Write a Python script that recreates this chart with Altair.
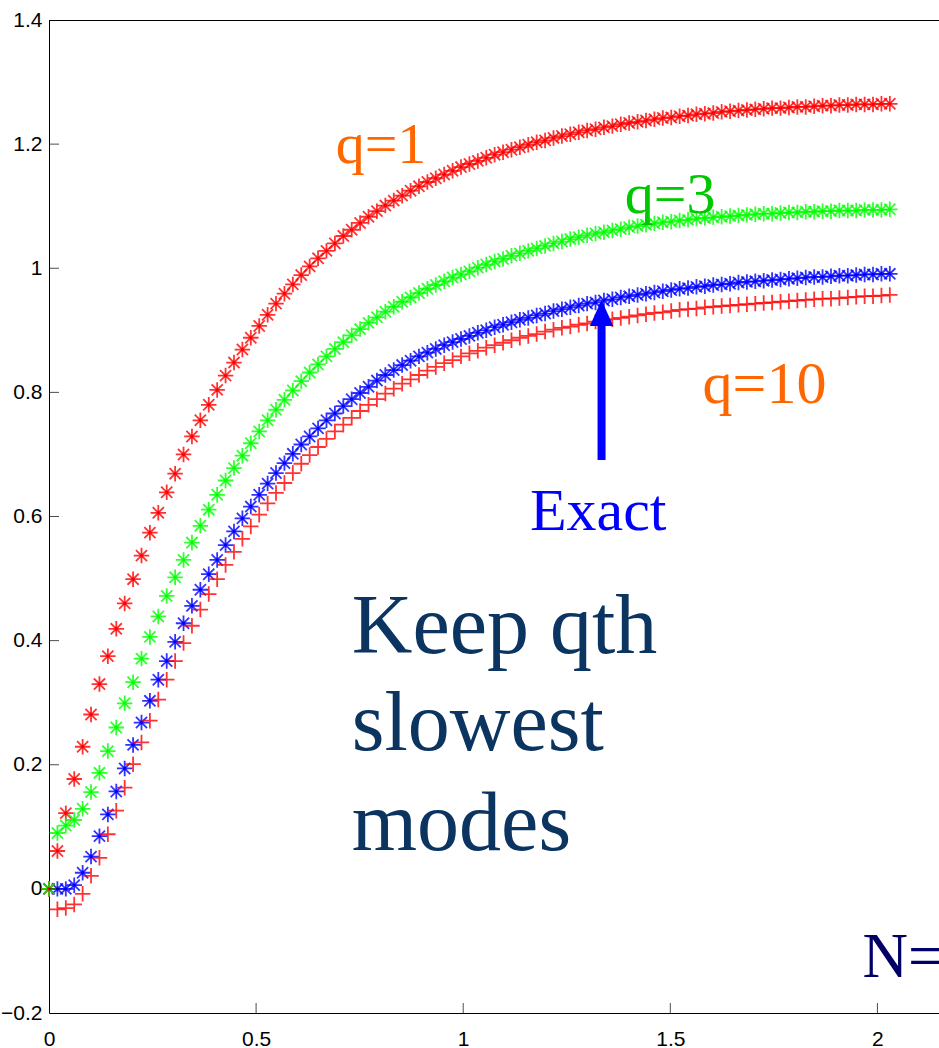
import altair as alt
import pandas as pd

# ---- data ----
DT = 0.0203          # spacing of the time samples
N_PTS = 101
T = [round(DT * k, 4) for k in range(N_PTS)]

Q1 = [0.000, 0.061, 0.122, 0.177, 0.229, 0.281, 0.330, 0.375, 0.419, 0.460,
      0.499, 0.537, 0.574, 0.606, 0.639, 0.669, 0.700, 0.729, 0.755, 0.780,
      0.804, 0.827, 0.848, 0.869, 0.888, 0.907, 0.925, 0.943, 0.959, 0.974,
      0.989, 1.003, 1.016, 1.028, 1.040, 1.052, 1.062, 1.073, 1.083, 1.092,
      1.101, 1.109, 1.117, 1.125, 1.132, 1.139, 1.145, 1.151, 1.157, 1.163,
      1.168, 1.173, 1.178, 1.183, 1.187, 1.191, 1.195, 1.199, 1.203, 1.206,
      1.210, 1.213, 1.216, 1.219, 1.222, 1.224, 1.227, 1.229, 1.232, 1.234,
      1.236, 1.238, 1.240, 1.242, 1.243, 1.245, 1.246, 1.248, 1.249, 1.250,
      1.252, 1.253, 1.254, 1.255, 1.256, 1.257, 1.258, 1.258, 1.259, 1.260,
      1.260, 1.261, 1.262, 1.262, 1.263, 1.263, 1.264, 1.264, 1.264, 1.265,
      1.265]

Q3 = [0.000, 0.090, 0.102, 0.111, 0.129, 0.156, 0.187, 0.222, 0.260, 0.299,
      0.333, 0.371, 0.406, 0.439, 0.472, 0.502, 0.530, 0.558, 0.585, 0.611,
      0.635, 0.658, 0.678, 0.698, 0.718, 0.737, 0.755, 0.772, 0.788, 0.803,
      0.818, 0.832, 0.845, 0.858, 0.870, 0.881, 0.892, 0.902, 0.912, 0.921,
      0.930, 0.938, 0.946, 0.953, 0.960, 0.967, 0.973, 0.979, 0.985, 0.990,
      0.995, 1.001, 1.006, 1.011, 1.015, 1.020, 1.024, 1.028, 1.032, 1.036,
      1.040, 1.043, 1.047, 1.050, 1.053, 1.056, 1.058, 1.061, 1.063, 1.066,
      1.068, 1.070, 1.072, 1.074, 1.075, 1.077, 1.078, 1.080, 1.081, 1.082,
      1.083, 1.084, 1.085, 1.086, 1.087, 1.088, 1.088, 1.089, 1.090, 1.090,
      1.091, 1.091, 1.092, 1.092, 1.093, 1.093, 1.093, 1.094, 1.094, 1.094,
      1.095]

EXACT = [0.000, 0.000, 0.000, 0.006, 0.026, 0.052, 0.085, 0.120, 0.157, 0.194,
         0.232, 0.268, 0.303, 0.337, 0.367, 0.398, 0.428, 0.456, 0.482, 0.507,
         0.530, 0.554, 0.576, 0.597, 0.616, 0.635, 0.653, 0.670, 0.686, 0.701,
         0.716, 0.729, 0.742, 0.755, 0.766, 0.778, 0.789, 0.799, 0.809, 0.819,
         0.828, 0.836, 0.844, 0.851, 0.858, 0.864, 0.870, 0.876, 0.881, 0.886,
         0.891, 0.896, 0.900, 0.905, 0.909, 0.913, 0.917, 0.920, 0.924, 0.927,
         0.931, 0.934, 0.937, 0.940, 0.943, 0.945, 0.948, 0.950, 0.953, 0.955,
         0.957, 0.959, 0.961, 0.963, 0.965, 0.967, 0.968, 0.970, 0.971, 0.973,
         0.974, 0.975, 0.977, 0.978, 0.979, 0.980, 0.981, 0.982, 0.983, 0.984,
         0.985, 0.986, 0.986, 0.987, 0.988, 0.988, 0.989, 0.990, 0.990, 0.991,
         0.991]

Q10 = [0.000, -0.033, -0.031, -0.025, -0.008, 0.021, 0.050, 0.088, 0.126, 0.163,
       0.201, 0.236, 0.271, 0.305, 0.337, 0.367, 0.396, 0.424, 0.450, 0.475,
       0.499, 0.522, 0.543, 0.564, 0.584, 0.603, 0.621, 0.638, 0.654, 0.670,
       0.685, 0.699, 0.712, 0.725, 0.737, 0.748, 0.759, 0.770, 0.780, 0.789,
       0.798, 0.806, 0.814, 0.821, 0.828, 0.835, 0.841, 0.847, 0.852, 0.858,
       0.863, 0.867, 0.872, 0.876, 0.880, 0.884, 0.888, 0.891, 0.894, 0.898,
       0.901, 0.904, 0.906, 0.909, 0.911, 0.914, 0.916, 0.918, 0.920, 0.922,
       0.924, 0.926, 0.928, 0.929, 0.931, 0.933, 0.934, 0.935, 0.937, 0.938,
       0.939, 0.940, 0.941, 0.942, 0.943, 0.944, 0.945, 0.946, 0.947, 0.948,
       0.949, 0.950, 0.951, 0.951, 0.952, 0.953, 0.954, 0.955, 0.955, 0.956,
       0.957]

SERIES = ["q10", "exact", "q3", "q1"]
SERIES_COLORS = ["#ff0000", "#0000ff", "#00ff00", "#ff0000"]

X_TICKS = [0, 0.5, 1, 1.5, 2]
Y_TICKS = [-0.2, 0, 0.2, 0.4, 0.6, 0.8, 1, 1.2, 1.4]
X_DOMAIN = [0, 2.1487]
Y_DOMAIN = [-0.2, 1.4]

# annotation texts (data coordinates)
LABEL_TEXT = ["q=1", "q=3", "q=10", "Exact", "Keep qth", "slowest", "modes", "N="]
LABEL_X = [0.692, 1.390, 1.578, 1.161, 0.731, 0.731, 0.731, 1.964]
LABEL_Y = [1.170, 1.089, 0.783, 0.578, 0.380, 0.224, 0.063, -0.142]
LABEL_COLOR = ["#ff6600", "#00c800", "#ff6600", "#0000ff",
               "#0b3560", "#0b3560", "#0b3560", "#000066"]
LABEL_SIZE = [58, 58, 60, 60, 84, 84, 84, 63]

ARROW_X = 1.334
ARROW_BASE = 0.691
ARROW_NECK = 0.920
ARROW_HEAD = 0.928

W, H = 890, 993

# ---- tables ----
rows = []
for name, vals in zip(SERIES, [Q10, EXACT, Q3, Q1]):
    for t, v in zip(T, vals):
        rows.append({"t": t, "y": v, "series": name})
df = pd.DataFrame(rows)
stars = df[df.series != "q10"]

STAR = "M-1,0L1,0M0,-1L0,1M-0.72,-0.72L0.72,0.72M-0.72,0.72L0.72,-0.72"
PLUS = "M-1,0L1,0M0,-1L0,1"
TRI = "M0,-1L-0.9,1L0.9,1Z"

xs = alt.Scale(domain=X_DOMAIN, nice=False, zero=False)
ys = alt.Scale(domain=Y_DOMAIN, nice=False, zero=False)
common_axis = dict(format="~g", labelFlush=False, ticks=False, grid=False,
                   domainColor="black", domainWidth=1, labelColor="black",
                   labelFont="Liberation Sans", labelFontSize=21)
x_axis = alt.Axis(values=X_TICKS, labelPadding=15, **common_axis)
y_axis = alt.Axis(values=Y_TICKS, labelPadding=7, **common_axis)


def X(field):
    return alt.X(field, type="quantitative", scale=xs, axis=x_axis, title=None)


def Y(field):
    return alt.Y(field, type="quantitative", scale=ys, axis=y_axis, title=None)


color = alt.Color("series:N", scale=alt.Scale(domain=SERIES, range=SERIES_COLORS), legend=None)

points = alt.Chart(df).mark_point(filled=False, strokeWidth=1.8, opacity=0.8).encode(
    x=X("t"), y=Y("y"), color=color,
    shape=alt.Shape("series:N", scale=alt.Scale(domain=SERIES, range=[PLUS, STAR, STAR, STAR]), legend=None),
    size=alt.value(240),
    order=alt.Order("series:N"),
)

dots = alt.Chart(stars).mark_circle(opacity=1).encode(
    x=X("t"), y=Y("y"), color=color, size=alt.value(12),
)

tick_y = alt.Chart(pd.DataFrame({"y": Y_TICKS[1:-1]})).mark_tick(
    color="black", size=10, thickness=1, orient="horizontal").encode(
    y=Y("y"), x=alt.value(5))
tick_x = alt.Chart(pd.DataFrame({"t": X_TICKS[1:]})).mark_tick(
    color="black", size=10, thickness=1, orient="vertical").encode(
    x=X("t"), y=alt.value(H - 5))

top_border = alt.Chart(pd.DataFrame({"a": [0]})).mark_rule(color="black", strokeWidth=1).encode(
    x=alt.value(0), x2=alt.value(W), y=alt.value(0.5))

labels = pd.DataFrame({"text": LABEL_TEXT, "t": LABEL_X, "y": LABEL_Y,
                       "c": LABEL_COLOR, "s": LABEL_SIZE})
text = alt.Chart(labels).mark_text(align="left", baseline="alphabetic",
                                   font="Liberation Serif").encode(
    x=X("t"), y=Y("y"),
    text="text:N", color=alt.Color("c:N", scale=None),
    size=alt.Size("s:Q", scale=None),
)

arrow_df = pd.DataFrame({"t": [ARROW_X], "y": [ARROW_BASE], "y2": [ARROW_NECK], "yh": [ARROW_HEAD]})
shaft = alt.Chart(arrow_df).mark_rule(color="#0000ff", strokeWidth=8).encode(
    x=X("t"), y=Y("y"), y2="y2:Q")
head = alt.Chart(arrow_df).mark_point(shape=TRI, filled=True, color="#0000ff",
                                      opacity=1, size=676).encode(
    x=X("t"), y=Y("yh"))

chart = alt.layer(points, dots, tick_y, tick_x, top_border, text, shaft, head).properties(
    width=W, height=H,
    autosize=alt.AutoSizeParams(type="none"),
    padding={"left": 49, "top": 20, "right": 0, "bottom": 35},
    background="white",
).configure_view(stroke=None)

chart.save("out.html", embed_options={"renderer": "svg", "actions": False})
